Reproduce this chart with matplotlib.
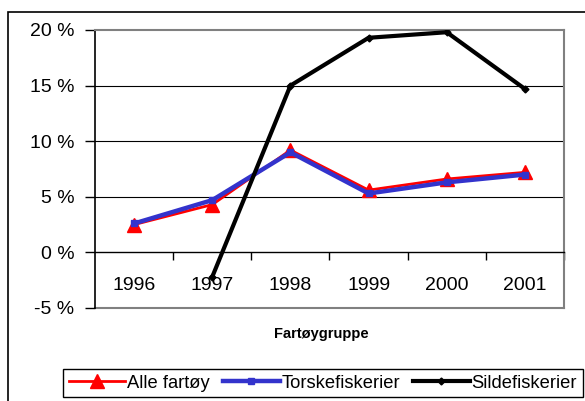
import matplotlib
matplotlib.use("Agg")
import matplotlib.pyplot as plt
from matplotlib.patches import Rectangle

plt.rcParams['font.family'] = ['Liberation Sans', 'DejaVu Sans']

years = ["1996", "1997", "1998", "1999", "2000", "2001"]
alle_fartoy = [2.5, 4.3, 9.2, 5.6, 6.6, 7.2]
torskefiskerier = [2.6, 4.7, 9.0, 5.3, 6.3, 7.0]
sildefiskerier = [None, -2.2, 15.0, 19.3, 19.8, 14.7]
yticks = [-5, 0, 5, 10, 15, 20]

W, H = 585, 401
fig = plt.figure(figsize=(W / 100, H / 100), dpi=100)

# outer chart frame (clipped at right/bottom like the original)
fig.patches.append(Rectangle((8 / W, -0.05), 1.0, 1 - 12 / H + 0.05, transform=fig.transFigure,
                             fill=False, edgecolor='black', linewidth=1.2))

ax = fig.add_axes([95 / W, (H - 308) / H, 469 / W, 278 / H])
x = list(range(len(years)))

ax.plot(x, alle_fartoy, color='#ff0000', lw=2, marker='^', ms=10, mfc='#ff0000', mec='#ff0000',
        label='Alle fartøy', zorder=3)
ax.plot(x, torskefiskerier, color='#3333cc', lw=3.2, marker='s', ms=5, mfc='#3333cc', mec='#3333cc',
        label='Torskefiskerier', zorder=4)
sx = [i for i, v in zip(x, sildefiskerier) if v is not None]
sy = [v for v in sildefiskerier if v is not None]
ax.plot(sx, sy, color='black', lw=3, marker='D', ms=3.5, label='Sildefiskerier', zorder=5)

ax.set_xlim(-0.5, len(years) - 0.5)
ax.set_ylim(-5, 20)
ax.set_yticks(yticks)
ax.set_yticklabels([f"{v} %" for v in yticks])
for v in yticks[2:-1]:
    ax.axhline(v, color='black', lw=0.8, zorder=1)

ax.set_xticks([i + 0.5 for i in x])
ax.set_xticklabels([])
ax.set_xticks(x, minor=True)
ax.set_xticklabels(years, minor=True)
ax.tick_params(axis='x', which='minor', length=0, pad=18, labelsize=14)
ax.tick_params(axis='x', which='major', length=6, width=1, direction='out')
ax.tick_params(axis='y', length=7, width=1, pad=8, labelsize=14)

ax.spines['bottom'].set_position(('data', 0))
ax.spines['bottom'].set_linewidth(1)
ax.spines['left'].set_linewidth(1.2)
for s in ['top', 'right']:
    ax.spines[s].set_color('#808080')
    ax.spines[s].set_linewidth(1.5)
ax.axhline(-5, color='#808080', lw=1.5, clip_on=False, zorder=0)

fig.text(321 / W, 1 - 334 / H, "Fartøygruppe", fontsize=10.5, fontweight='bold', ha='center', va='center')

leg = fig.legend(loc='lower left', bbox_to_anchor=(63 / W, 4 / H), ncol=3, fontsize=13.2,
                 handlelength=3.1, handletextpad=0.1, columnspacing=0.7, borderpad=0.3,
                 borderaxespad=0, fancybox=False, edgecolor='black', framealpha=1)
leg.get_frame().set_linewidth(1)

fig.savefig("out.png", dpi=100)
